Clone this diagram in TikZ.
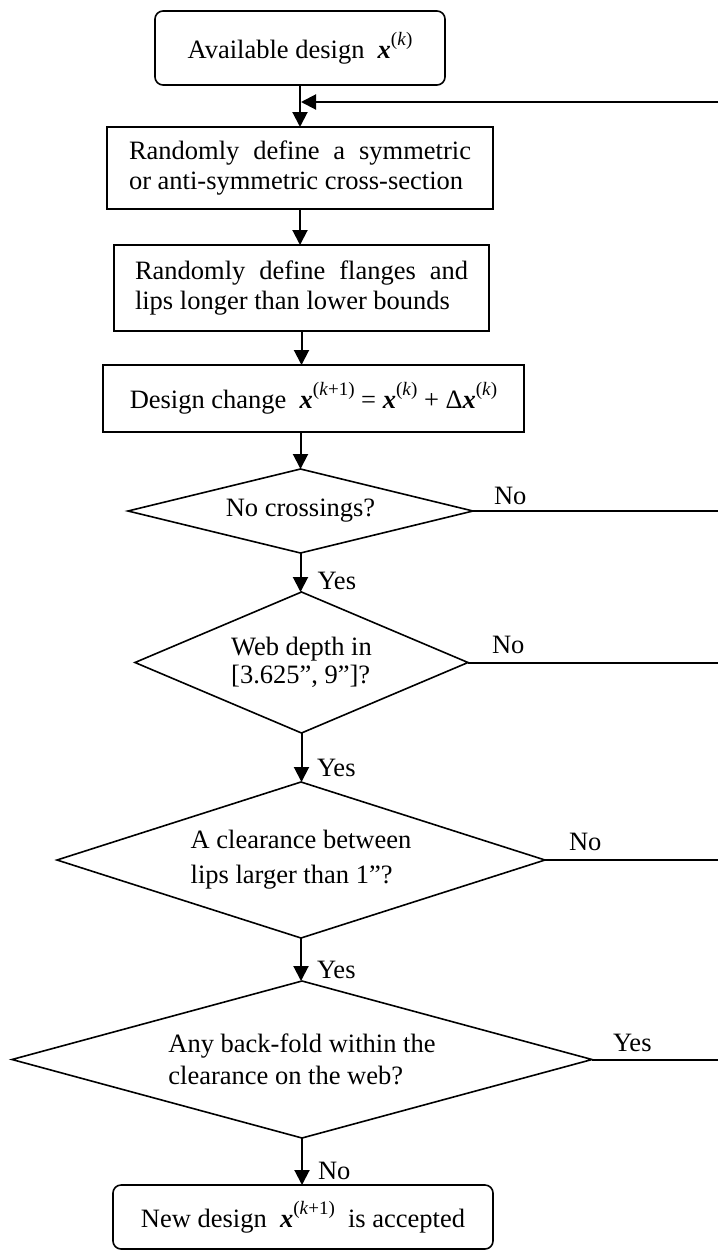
\documentclass[tikz,border=0pt]{standalone}
\usepackage{fontspec}
\setmainfont{Liberation Serif}
\usetikzlibrary{shapes.geometric,arrows.meta,calc}
\newcommand{\bx}{{\bfseries\itshape x}}
\newcommand{\sps}[1]{\raisebox{0.5em}{\fontsize{19}{19}\selectfont #1}}
\begin{document}
\begin{tikzpicture}[x=1pt,y=-1pt,
  every node/.style={font=\fontsize{26.5}{30}\selectfont, inner sep=0pt, outer sep=0pt},
  boxnode/.style={draw, line width=1.6pt, align=left},
  roundbox/.style={boxnode, rounded corners=8pt},
  decision/.style={draw, line width=1.6pt, shape=diamond, aspect=3, align=left},
  conn/.style={line width=2pt},
  arr/.style={conn, -{Triangle[length=15pt,width=15pt]}},
  lbl/.style={anchor=base west},
]
\useasboundingbox (0,0) rectangle (718,1251);

\node[roundbox, minimum width=290pt, minimum height=74pt] (b1) at (300,48)
  {Available design~~\bx\sps{(\textit{k})}};
\node[boxnode, minimum width=386pt, minimum height=82pt] (b2) at (300,168)
  {\makebox[342pt][s]{Randomly define a symmetric}\\or anti-symmetric cross-section};
\node[boxnode, minimum width=375pt, minimum height=86pt] (b3) at (301.5,288)
  {\makebox[333pt][s]{Randomly define flanges and}\\lips longer than lower bounds};
\node[boxnode, minimum width=421pt, minimum height=67pt] (b4) at (313.5,398.5)
  {Design change~~\bx\sps{(\textit{k}+1)} = \bx\sps{(\textit{k})} + Δ\bx\sps{(\textit{k})}};
\node[decision, minimum width=345pt, minimum height=84pt] (d1) at (300.5,511)
  {No crossings?};
\node[decision, minimum width=333pt, minimum height=141pt,
  font=\fontsize{26.5}{28}\selectfont] (d2) at (301.5,662.5)
  {Web depth in\\{}[3.625'', 9'']?};
\node[decision, minimum width=488pt, minimum height=156pt,
  font=\fontsize{26.5}{35}\selectfont] (d3) at (301,860)
  {A clearance between\\lips larger than 1''?};
\node[decision, minimum width=580pt, minimum height=157pt,
  font=\fontsize{26.5}{32}\selectfont] (d4) at (302,1059.5)
  {Any back-fold within the\\clearance on the web?};
\node[roundbox, minimum width=380pt, minimum height=64pt] (b5) at (303,1217)
  {New design~~\bx\sps{(\textit{k}+1)}~~is accepted};

\coordinate (redge) at (718,102);

% main flow
\draw[arr] (b1.south) -- (b1.south |- b2.north);
\draw[arr] (b2.south) -- (b2.south |- b3.north);
\draw[arr] (b3.south) -- (b3.south |- b4.north);
\draw[arr] (d1.north |- b4.south) -- (d1.north);
\draw[arr] (d1.south) -- (d1.south |- d2.north);
\draw[arr] (d2.south) -- (d2.south |- d3.north);
\draw[arr] (d3.south) -- (d3.south |- d4.north);
\draw[arr] (d4.south) -- (d4.south |- b5.north);

% feedback lines
\draw[conn] (d1.east) -- (d1.east -| redge);
\draw[conn] (d2.east) -- (d2.east -| redge);
\draw[conn] (d3.east) -- (d3.east -| redge);
\draw[conn] (d4.east) -- (d4.east -| redge);
\draw[arr] (redge) -- ($(redge -| b1.south)+(1,0)$);

% labels
\node[lbl] (l1) at ($(d1.east)+(21,-7)$) {No};
\node[lbl] (l2) at ($(d2.east)+(24,-9)$) {No};
\node[lbl] (l3) at ($(d3.east)+(24,-10)$) {No};
\node[lbl] (l4) at ($(d4.east)+(21,-8)$) {Yes};
\node[lbl] (l5) at ($(d2.north)+(16,-3)$) {Yes};
\node[lbl] (l6) at ($(d3.north)+(16,-6)$) {Yes};
\node[lbl] (l7) at ($(d4.north)+(15,-3)$) {Yes};
\node[lbl] (l8) at ($(b5.north)+(15,-6)$) {No};
\end{tikzpicture}
\end{document}
